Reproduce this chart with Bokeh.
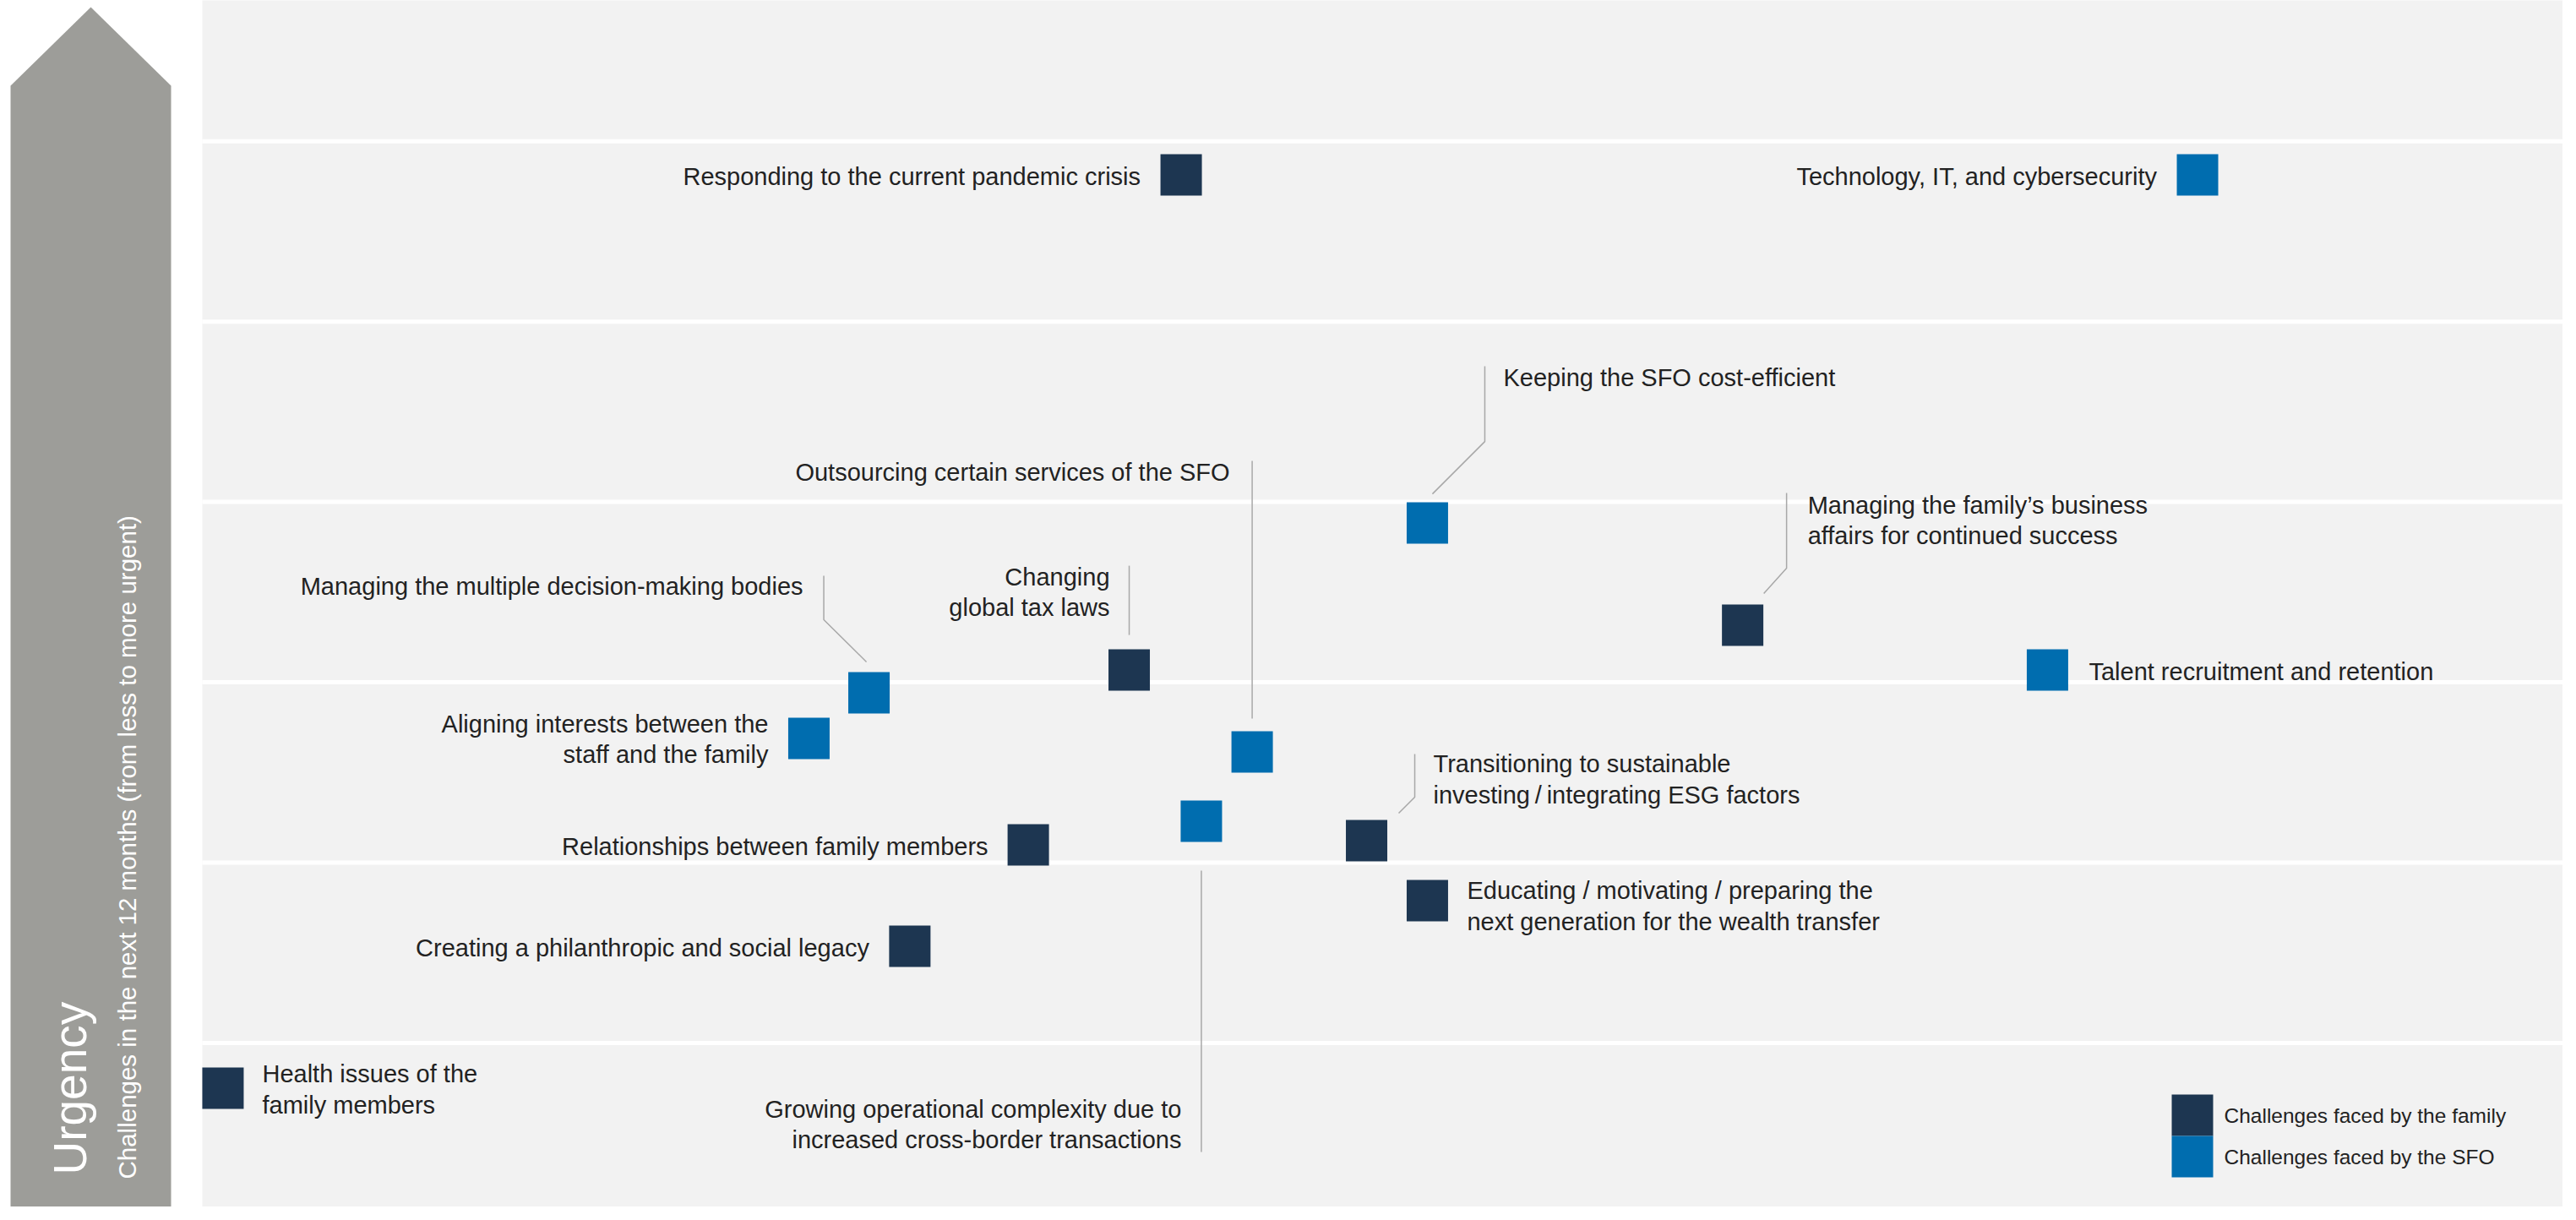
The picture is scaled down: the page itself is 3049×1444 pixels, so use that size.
from math import pi
from bokeh.plotting import figure
from bokeh.models import Range1d, ColumnDataSource
from bokeh.embed import file_html
from bokeh.resources import INLINE
from bokeh.core.properties import value

# ---------------- data ----------------
challenges = [
    "Responding to the current pandemic crisis",
    "Technology, IT, and cybersecurity",
    "Keeping the SFO cost-efficient",
    "Managing the family\u2019s business\naffairs for continued success",
    "Talent recruitment and retention",
    "Changing\nglobal tax laws",
    "Managing the multiple decision-making bodies",
    "Aligning interests between the\nstaff and the family",
    "Relationships between family members",
    "Creating a philanthropic and social legacy",
    "Outsourcing certain services of the SFO",
    "Growing operational complexity due to\nincreased cross-border transactions",
    "Transitioning to sustainable\ninvesting\u2009/\u2009integrating ESG factors",
    "Educating / motivating / preparing the\nnext generation for the wealth transfer",
    "Health issues of the\nfamily members",
]
faced_by = ["family", "SFO", "SFO", "family", "SFO", "family", "SFO", "SFO",
            "family", "family", "SFO", "SFO", "family", "family", "family"]
# horizontal position (0-100 scale across the panel)
importance = [41.23, 84.04, 51.60, 64.88, 77.72, 39.04, 28.08, 25.55,
              34.79, 29.80, 44.22, 42.08, 49.04, 51.60, 0.87]
# urgency (bands separated at whole numbers)
urgency = [5.814, 5.814, 3.883, 3.317, 3.068, 3.068, 2.942, 2.689,
           2.099, 1.536, 2.614, 2.230, 2.122, 1.789, 0.749]
band_lines = [1, 2, 3, 4, 5, 6]
legend_labels = ["Challenges faced by the family", "Challenges faced by the SFO"]
axis_title = "Urgency"
axis_subtitle = "Challenges in the next 12 months (from less to more urgent)"

# ---------------- styling / layout ----------------
COLORS = {"family": "#1d3651", "SFO": "#006daf"}
PANEL = "#f2f2f2"
ARROW = "#9d9d99"
TEXT = "#222222"
LEADER = "#a8a8a8"
FONT = value("Liberation Sans")
LABEL_PX = 29
LEGEND_PX = 24.5
TITLE_PX = 55
SUB_PX = 29.5
LINE_STEP = 36.5
SHIFT = 0.33     # baseline correction, in em

W, H = 3033, 1428
PX_X = 28.1      # pixels per importance unit
PX_Y = 213.46    # pixels per urgency unit
X0_PX, Y0_PX = 239.0, 1447.46   # pixel position of importance 0 / urgency 0

def rx(X):
    return (X - X0_PX) / PX_X

def ry(Y):
    return (Y0_PX - Y) / PX_Y

# label placement: (align, dx, dy) in screen pixels relative to the square
label_layout = [
    ("right", -48, 11.5), ("right", -48, 11.5), ("left", 90, -162.5),
    ("left", 77, -132.5), ("left", 49, 11.5), ("right", -23, -100.8),
    ("right", -78, -116.2), ("right", -48, -7.8), ("right", -47.5, 11.2),
    ("right", -48, 11.2), ("right", -26.5, -321.2), ("right", -23.5, 350.2),
    ("left", 79, -81.2), ("left", 47, -2.2), ("left", 46.5, -7.5),
]
# leader line paths in screen-pixel offsets from the square
leaders = {
    2: [(6, -34.5), (68, -96.5), (68, -185.5)],
    3: [(25, -37.5), (52, -67.5), (52, -156.5)],
    5: [(0, -41.5), (0, -123.5)],
    6: [(-3, -36.5), (-53.5, -86.5), (-53.5, -138.5)],
    10: [(0, -39.5), (0, -344.5)],
    11: [(0, 58.5), (0, 391.5)],
    12: [(38, -32.5), (57, -51.5), (57, -102.5)],
}

x_start = (0 - X0_PX) / PX_X
y_start = (Y0_PX - H) / PX_Y
p = figure(width=W, height=H,
           x_range=Range1d(x_start, x_start + W / PX_X),
           y_range=Range1d(y_start, y_start + H / PX_Y),
           x_axis_type=None, y_axis_type=None,
           output_backend="svg", toolbar_location=None,
           min_border=0, outline_line_color=None,
           background_fill_color="white", border_fill_color="white")
p.grid.visible = False

# grey panel
p.quad(left=0, right=rx(3100), bottom=-1, top=10, fill_color=PANEL, line_color=None)
# white band separators
p.segment(x0=[0] * len(band_lines), y0=band_lines,
          x1=[rx(3100)] * len(band_lines), y1=band_lines,
          line_color="white", line_width=5)

# arrow on the left
p.patch(x=[rx(12), rx(12), rx(107), rx(202), rx(202)],
        y=[ry(1470), ry(101), ry(8), ry(101), ry(1470)],
        fill_color=ARROW, line_color=None)
p.text(x=[rx(101 - SHIFT * TITLE_PX)], y=[ry(1390)], text=[axis_title], angle=pi / 2,
       text_font=FONT, text_font_size=f"{TITLE_PX}px", text_color="white",
       text_align="left", text_baseline="alphabetic")
p.text(x=[rx(160 - SHIFT * SUB_PX)], y=[ry(1395)], text=[axis_subtitle], angle=pi / 2,
       text_font=FONT, text_font_size=f"{SUB_PX}px", text_color="white",
       text_align="left", text_baseline="alphabetic")

# leader lines
xs, ys = [], []
for i, pts in leaders.items():
    xs.append([importance[i] + dx / PX_X for dx, dy in pts])
    ys.append([urgency[i] - dy / PX_Y for dx, dy in pts])
p.multi_line(xs=xs, ys=ys, line_color=LEADER, line_width=1.5)

# squares
src = ColumnDataSource(dict(x=importance, y=urgency,
                            color=[COLORS[k] for k in faced_by]))
p.rect(x="x", y="y", width=49, height=49, width_units="screen",
       height_units="screen", fill_color="color", line_color=None, source=src)

# labels
rows = {"left": dict(x=[], y=[], text=[], xo=[], yo=[]),
        "right": dict(x=[], y=[], text=[], xo=[], yo=[])}
for i, label in enumerate(challenges):
    align, dx, dy = label_layout[i]
    for j, line in enumerate(label.split("\n")):
        r = rows[align]
        r["x"].append(importance[i])
        r["y"].append(urgency[i])
        r["text"].append(line)
        r["xo"].append(dx)
        r["yo"].append(dy + j * LINE_STEP - SHIFT * LABEL_PX)
for align, r in rows.items():
    p.text(x="x", y="y", text="text", x_offset="xo", y_offset="yo",
           source=ColumnDataSource(r), text_font=FONT,
           text_font_size=f"{LABEL_PX}px",
           text_color=TEXT, text_align=align, text_baseline="alphabetic")

# legend (drawn manually so the swatches touch)
leg_y = [ry(1319.5), ry(1368.5)]
p.rect(x=[rx(2594.5)] * 2, y=leg_y, width=49, height=49, width_units="screen",
       height_units="screen", fill_color=[COLORS["family"], COLORS["SFO"]],
       line_color=None)
p.text(x=[rx(2632)] * 2, y=leg_y, text=legend_labels,
       y_offset=[9 - SHIFT * LEGEND_PX] * 2,
       text_font=FONT, text_font_size=f"{LEGEND_PX}px", text_color=TEXT,
       text_align="left", text_baseline="alphabetic")

open("out.html", "w").write(file_html(p, INLINE))
